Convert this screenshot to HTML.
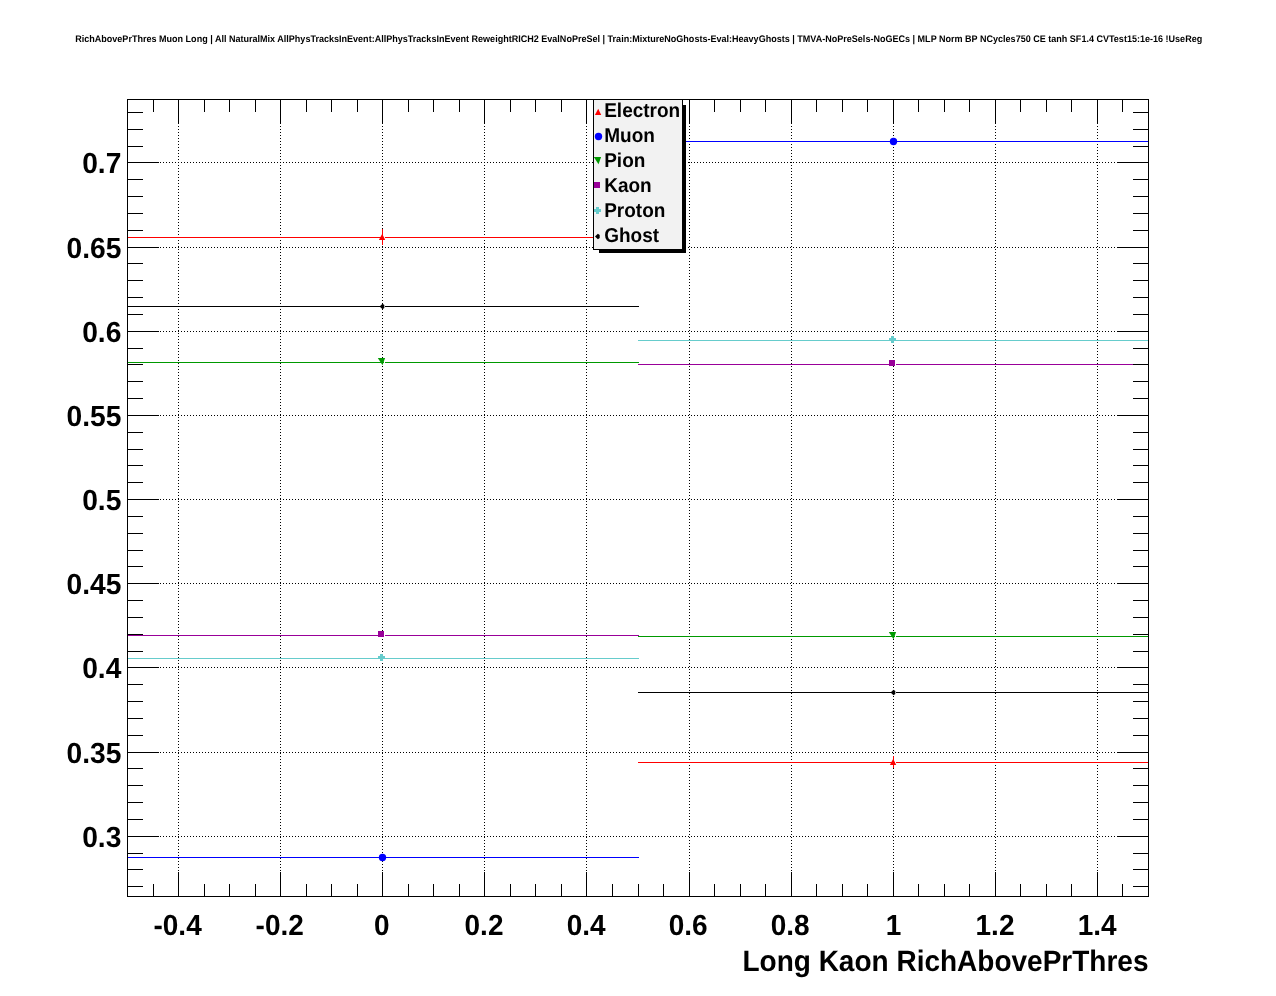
<!DOCTYPE html>
<html><head><meta charset="utf-8"><title>plot</title>
<style>html,body{margin:0;padding:0;background:#fff;}body{width:1276px;height:996px;overflow:hidden;}svg{display:block;will-change:transform;}text{font-family:"Liberation Sans",sans-serif;font-weight:bold;fill:#000;text-rendering:geometricPrecision;}</style></head><body>
<svg width="1276" height="996" viewBox="0 0 1276 996">
<rect x="0" y="0" width="1276" height="996" fill="#fff"/>
<g stroke="#000" stroke-width="1" stroke-dasharray="1 2" shape-rendering="crispEdges">
<line x1="178.5" y1="126" x2="178.5" y2="872"/>
<line x1="280.5" y1="126" x2="280.5" y2="872"/>
<line x1="382.5" y1="126" x2="382.5" y2="872"/>
<line x1="484.5" y1="126" x2="484.5" y2="872"/>
<line x1="586.5" y1="126" x2="586.5" y2="872"/>
<line x1="689.5" y1="126" x2="689.5" y2="872"/>
<line x1="791.5" y1="126" x2="791.5" y2="872"/>
<line x1="893.5" y1="126" x2="893.5" y2="872"/>
<line x1="995.5" y1="126" x2="995.5" y2="872"/>
<line x1="1097.5" y1="126" x2="1097.5" y2="872"/>
<line x1="160" y1="836.5" x2="1117" y2="836.5"/>
<line x1="160" y1="752.5" x2="1117" y2="752.5"/>
<line x1="160" y1="667.5" x2="1117" y2="667.5"/>
<line x1="160" y1="583.5" x2="1117" y2="583.5"/>
<line x1="160" y1="499.5" x2="1117" y2="499.5"/>
<line x1="160" y1="415.5" x2="1117" y2="415.5"/>
<line x1="160" y1="331.5" x2="1117" y2="331.5"/>
<line x1="160" y1="247.5" x2="1117" y2="247.5"/>
<line x1="160" y1="162.5" x2="1117" y2="162.5"/>
</g>
<g stroke="#ff0000" stroke-width="1" shape-rendering="crispEdges">
<line x1="127" y1="237.5" x2="384" y2="237.5"/>
<line x1="385" y1="237.5" x2="639" y2="237.5"/>
<line x1="638" y1="762.5" x2="895" y2="762.5"/>
<line x1="896" y1="762.5" x2="1149" y2="762.5"/>
</g>
<g stroke="#0000ff" stroke-width="1" shape-rendering="crispEdges">
<line x1="127" y1="857.5" x2="384" y2="857.5"/>
<line x1="385" y1="857.5" x2="639" y2="857.5"/>
<line x1="638" y1="141.5" x2="895" y2="141.5"/>
<line x1="896" y1="141.5" x2="1149" y2="141.5"/>
</g>
<g stroke="#009900" stroke-width="1" shape-rendering="crispEdges">
<line x1="127" y1="362.5" x2="384" y2="362.5"/>
<line x1="385" y1="362.5" x2="639" y2="362.5"/>
<line x1="638" y1="636.5" x2="895" y2="636.5"/>
<line x1="896" y1="636.5" x2="1149" y2="636.5"/>
</g>
<g stroke="#990099" stroke-width="1" shape-rendering="crispEdges">
<line x1="127" y1="635.5" x2="384" y2="635.5"/>
<line x1="385" y1="635.5" x2="639" y2="635.5"/>
<line x1="638" y1="364.5" x2="895" y2="364.5"/>
<line x1="896" y1="364.5" x2="1149" y2="364.5"/>
</g>
<g stroke="#66cccc" stroke-width="1" shape-rendering="crispEdges">
<line x1="127" y1="658.5" x2="384" y2="658.5"/>
<line x1="385" y1="658.5" x2="639" y2="658.5"/>
<line x1="638" y1="340.5" x2="895" y2="340.5"/>
<line x1="896" y1="340.5" x2="1149" y2="340.5"/>
</g>
<g stroke="#000000" stroke-width="1" shape-rendering="crispEdges">
<line x1="127" y1="306.5" x2="384" y2="306.5"/>
<line x1="385" y1="306.5" x2="639" y2="306.5"/>
<line x1="638" y1="692.5" x2="895" y2="692.5"/>
<line x1="896" y1="692.5" x2="1149" y2="692.5"/>
</g>
<g stroke="#ff0000" stroke-width="1" shape-rendering="crispEdges">
<line x1="382.5" y1="229" x2="382.5" y2="245"/>
<line x1="893.5" y1="756" x2="893.5" y2="768"/>
</g>
<polygon points="378.9,240 385.2,240 382.2,233.8" fill="#ff0000"/>
<polygon points="889.9,765 896.2,765 893.2,758.8" fill="#ff0000"/>
<circle cx="382.5" cy="857.5" r="3.7" fill="#0000ff"/>
<circle cx="893.5" cy="141.5" r="3.7" fill="#0000ff"/>
<polygon points="377.8,358 385.1,358 382.5,365.2" fill="#009900"/>
<polygon points="888.8,632 896.1,632 893.5,639.2" fill="#009900"/>
<rect x="378" y="631" width="6" height="6" fill="#990099" shape-rendering="crispEdges"/>
<rect x="889" y="360" width="6" height="6" fill="#990099" shape-rendering="crispEdges"/>
<rect x="380" y="654" width="3" height="7" fill="#66cccc" shape-rendering="crispEdges"/><rect x="378" y="656" width="7" height="3" fill="#66cccc" shape-rendering="crispEdges"/>
<rect x="891" y="336" width="3" height="7" fill="#66cccc" shape-rendering="crispEdges"/><rect x="889" y="338" width="7" height="3" fill="#66cccc" shape-rendering="crispEdges"/>
<polygon points="379.6,306.5 382.5,303.7 384.3,305.1 384.3,307.9 382.5,309.3" fill="#000000"/>
<polygon points="890.6,692.5 893.5,689.7 895.3,691.1 895.3,693.9 893.5,695.3" fill="#000000"/>
<g stroke="#000" stroke-width="1" shape-rendering="crispEdges" fill="none">
<rect x="127.5" y="99.5" width="1021" height="797"/>
<line x1="153.5" y1="99" x2="153.5" y2="112"/>
<line x1="153.5" y1="897" x2="153.5" y2="884"/>
<line x1="178.5" y1="99" x2="178.5" y2="124"/>
<line x1="178.5" y1="897" x2="178.5" y2="872"/>
<line x1="204.5" y1="99" x2="204.5" y2="112"/>
<line x1="204.5" y1="897" x2="204.5" y2="884"/>
<line x1="229.5" y1="99" x2="229.5" y2="112"/>
<line x1="229.5" y1="897" x2="229.5" y2="884"/>
<line x1="255.5" y1="99" x2="255.5" y2="112"/>
<line x1="255.5" y1="897" x2="255.5" y2="884"/>
<line x1="280.5" y1="99" x2="280.5" y2="124"/>
<line x1="280.5" y1="897" x2="280.5" y2="872"/>
<line x1="306.5" y1="99" x2="306.5" y2="112"/>
<line x1="306.5" y1="897" x2="306.5" y2="884"/>
<line x1="331.5" y1="99" x2="331.5" y2="112"/>
<line x1="331.5" y1="897" x2="331.5" y2="884"/>
<line x1="357.5" y1="99" x2="357.5" y2="112"/>
<line x1="357.5" y1="897" x2="357.5" y2="884"/>
<line x1="382.5" y1="99" x2="382.5" y2="124"/>
<line x1="382.5" y1="897" x2="382.5" y2="872"/>
<line x1="408.5" y1="99" x2="408.5" y2="112"/>
<line x1="408.5" y1="897" x2="408.5" y2="884"/>
<line x1="433.5" y1="99" x2="433.5" y2="112"/>
<line x1="433.5" y1="897" x2="433.5" y2="884"/>
<line x1="459.5" y1="99" x2="459.5" y2="112"/>
<line x1="459.5" y1="897" x2="459.5" y2="884"/>
<line x1="484.5" y1="99" x2="484.5" y2="124"/>
<line x1="484.5" y1="897" x2="484.5" y2="872"/>
<line x1="510.5" y1="99" x2="510.5" y2="112"/>
<line x1="510.5" y1="897" x2="510.5" y2="884"/>
<line x1="535.5" y1="99" x2="535.5" y2="112"/>
<line x1="535.5" y1="897" x2="535.5" y2="884"/>
<line x1="561.5" y1="99" x2="561.5" y2="112"/>
<line x1="561.5" y1="897" x2="561.5" y2="884"/>
<line x1="586.5" y1="99" x2="586.5" y2="124"/>
<line x1="586.5" y1="897" x2="586.5" y2="872"/>
<line x1="612.5" y1="99" x2="612.5" y2="112"/>
<line x1="612.5" y1="897" x2="612.5" y2="884"/>
<line x1="638.5" y1="99" x2="638.5" y2="112"/>
<line x1="638.5" y1="897" x2="638.5" y2="884"/>
<line x1="663.5" y1="99" x2="663.5" y2="112"/>
<line x1="663.5" y1="897" x2="663.5" y2="884"/>
<line x1="689.5" y1="99" x2="689.5" y2="124"/>
<line x1="689.5" y1="897" x2="689.5" y2="872"/>
<line x1="714.5" y1="99" x2="714.5" y2="112"/>
<line x1="714.5" y1="897" x2="714.5" y2="884"/>
<line x1="740.5" y1="99" x2="740.5" y2="112"/>
<line x1="740.5" y1="897" x2="740.5" y2="884"/>
<line x1="765.5" y1="99" x2="765.5" y2="112"/>
<line x1="765.5" y1="897" x2="765.5" y2="884"/>
<line x1="791.5" y1="99" x2="791.5" y2="124"/>
<line x1="791.5" y1="897" x2="791.5" y2="872"/>
<line x1="816.5" y1="99" x2="816.5" y2="112"/>
<line x1="816.5" y1="897" x2="816.5" y2="884"/>
<line x1="842.5" y1="99" x2="842.5" y2="112"/>
<line x1="842.5" y1="897" x2="842.5" y2="884"/>
<line x1="867.5" y1="99" x2="867.5" y2="112"/>
<line x1="867.5" y1="897" x2="867.5" y2="884"/>
<line x1="893.5" y1="99" x2="893.5" y2="124"/>
<line x1="893.5" y1="897" x2="893.5" y2="872"/>
<line x1="918.5" y1="99" x2="918.5" y2="112"/>
<line x1="918.5" y1="897" x2="918.5" y2="884"/>
<line x1="944.5" y1="99" x2="944.5" y2="112"/>
<line x1="944.5" y1="897" x2="944.5" y2="884"/>
<line x1="969.5" y1="99" x2="969.5" y2="112"/>
<line x1="969.5" y1="897" x2="969.5" y2="884"/>
<line x1="995.5" y1="99" x2="995.5" y2="124"/>
<line x1="995.5" y1="897" x2="995.5" y2="872"/>
<line x1="1020.5" y1="99" x2="1020.5" y2="112"/>
<line x1="1020.5" y1="897" x2="1020.5" y2="884"/>
<line x1="1046.5" y1="99" x2="1046.5" y2="112"/>
<line x1="1046.5" y1="897" x2="1046.5" y2="884"/>
<line x1="1071.5" y1="99" x2="1071.5" y2="112"/>
<line x1="1071.5" y1="897" x2="1071.5" y2="884"/>
<line x1="1097.5" y1="99" x2="1097.5" y2="124"/>
<line x1="1097.5" y1="897" x2="1097.5" y2="872"/>
<line x1="1122.5" y1="99" x2="1122.5" y2="112"/>
<line x1="1122.5" y1="897" x2="1122.5" y2="884"/>
<line x1="127" y1="112.5" x2="143" y2="112.5"/>
<line x1="1149" y1="112.5" x2="1133" y2="112.5"/>
<line x1="127" y1="129.5" x2="143" y2="129.5"/>
<line x1="1149" y1="129.5" x2="1133" y2="129.5"/>
<line x1="127" y1="146.5" x2="143" y2="146.5"/>
<line x1="1149" y1="146.5" x2="1133" y2="146.5"/>
<line x1="127" y1="162.5" x2="159" y2="162.5"/>
<line x1="1149" y1="162.5" x2="1117" y2="162.5"/>
<line x1="127" y1="179.5" x2="143" y2="179.5"/>
<line x1="1149" y1="179.5" x2="1133" y2="179.5"/>
<line x1="127" y1="196.5" x2="143" y2="196.5"/>
<line x1="1149" y1="196.5" x2="1133" y2="196.5"/>
<line x1="127" y1="213.5" x2="143" y2="213.5"/>
<line x1="1149" y1="213.5" x2="1133" y2="213.5"/>
<line x1="127" y1="230.5" x2="143" y2="230.5"/>
<line x1="1149" y1="230.5" x2="1133" y2="230.5"/>
<line x1="127" y1="247.5" x2="159" y2="247.5"/>
<line x1="1149" y1="247.5" x2="1117" y2="247.5"/>
<line x1="127" y1="263.5" x2="143" y2="263.5"/>
<line x1="1149" y1="263.5" x2="1133" y2="263.5"/>
<line x1="127" y1="280.5" x2="143" y2="280.5"/>
<line x1="1149" y1="280.5" x2="1133" y2="280.5"/>
<line x1="127" y1="297.5" x2="143" y2="297.5"/>
<line x1="1149" y1="297.5" x2="1133" y2="297.5"/>
<line x1="127" y1="314.5" x2="143" y2="314.5"/>
<line x1="1149" y1="314.5" x2="1133" y2="314.5"/>
<line x1="127" y1="331.5" x2="159" y2="331.5"/>
<line x1="1149" y1="331.5" x2="1117" y2="331.5"/>
<line x1="127" y1="348.5" x2="143" y2="348.5"/>
<line x1="1149" y1="348.5" x2="1133" y2="348.5"/>
<line x1="127" y1="364.5" x2="143" y2="364.5"/>
<line x1="1149" y1="364.5" x2="1133" y2="364.5"/>
<line x1="127" y1="381.5" x2="143" y2="381.5"/>
<line x1="1149" y1="381.5" x2="1133" y2="381.5"/>
<line x1="127" y1="398.5" x2="143" y2="398.5"/>
<line x1="1149" y1="398.5" x2="1133" y2="398.5"/>
<line x1="127" y1="415.5" x2="159" y2="415.5"/>
<line x1="1149" y1="415.5" x2="1117" y2="415.5"/>
<line x1="127" y1="432.5" x2="143" y2="432.5"/>
<line x1="1149" y1="432.5" x2="1133" y2="432.5"/>
<line x1="127" y1="449.5" x2="143" y2="449.5"/>
<line x1="1149" y1="449.5" x2="1133" y2="449.5"/>
<line x1="127" y1="465.5" x2="143" y2="465.5"/>
<line x1="1149" y1="465.5" x2="1133" y2="465.5"/>
<line x1="127" y1="482.5" x2="143" y2="482.5"/>
<line x1="1149" y1="482.5" x2="1133" y2="482.5"/>
<line x1="127" y1="499.5" x2="159" y2="499.5"/>
<line x1="1149" y1="499.5" x2="1117" y2="499.5"/>
<line x1="127" y1="516.5" x2="143" y2="516.5"/>
<line x1="1149" y1="516.5" x2="1133" y2="516.5"/>
<line x1="127" y1="533.5" x2="143" y2="533.5"/>
<line x1="1149" y1="533.5" x2="1133" y2="533.5"/>
<line x1="127" y1="550.5" x2="143" y2="550.5"/>
<line x1="1149" y1="550.5" x2="1133" y2="550.5"/>
<line x1="127" y1="566.5" x2="143" y2="566.5"/>
<line x1="1149" y1="566.5" x2="1133" y2="566.5"/>
<line x1="127" y1="583.5" x2="159" y2="583.5"/>
<line x1="1149" y1="583.5" x2="1117" y2="583.5"/>
<line x1="127" y1="600.5" x2="143" y2="600.5"/>
<line x1="1149" y1="600.5" x2="1133" y2="600.5"/>
<line x1="127" y1="617.5" x2="143" y2="617.5"/>
<line x1="1149" y1="617.5" x2="1133" y2="617.5"/>
<line x1="127" y1="634.5" x2="143" y2="634.5"/>
<line x1="1149" y1="634.5" x2="1133" y2="634.5"/>
<line x1="127" y1="651.5" x2="143" y2="651.5"/>
<line x1="1149" y1="651.5" x2="1133" y2="651.5"/>
<line x1="127" y1="667.5" x2="159" y2="667.5"/>
<line x1="1149" y1="667.5" x2="1117" y2="667.5"/>
<line x1="127" y1="684.5" x2="143" y2="684.5"/>
<line x1="1149" y1="684.5" x2="1133" y2="684.5"/>
<line x1="127" y1="701.5" x2="143" y2="701.5"/>
<line x1="1149" y1="701.5" x2="1133" y2="701.5"/>
<line x1="127" y1="718.5" x2="143" y2="718.5"/>
<line x1="1149" y1="718.5" x2="1133" y2="718.5"/>
<line x1="127" y1="735.5" x2="143" y2="735.5"/>
<line x1="1149" y1="735.5" x2="1133" y2="735.5"/>
<line x1="127" y1="752.5" x2="159" y2="752.5"/>
<line x1="1149" y1="752.5" x2="1117" y2="752.5"/>
<line x1="127" y1="768.5" x2="143" y2="768.5"/>
<line x1="1149" y1="768.5" x2="1133" y2="768.5"/>
<line x1="127" y1="785.5" x2="143" y2="785.5"/>
<line x1="1149" y1="785.5" x2="1133" y2="785.5"/>
<line x1="127" y1="802.5" x2="143" y2="802.5"/>
<line x1="1149" y1="802.5" x2="1133" y2="802.5"/>
<line x1="127" y1="819.5" x2="143" y2="819.5"/>
<line x1="1149" y1="819.5" x2="1133" y2="819.5"/>
<line x1="127" y1="836.5" x2="159" y2="836.5"/>
<line x1="1149" y1="836.5" x2="1117" y2="836.5"/>
<line x1="127" y1="853.5" x2="143" y2="853.5"/>
<line x1="1149" y1="853.5" x2="1133" y2="853.5"/>
<line x1="127" y1="869.5" x2="143" y2="869.5"/>
<line x1="1149" y1="869.5" x2="1133" y2="869.5"/>
<line x1="127" y1="886.5" x2="143" y2="886.5"/>
<line x1="1149" y1="886.5" x2="1133" y2="886.5"/>
</g>
<g shape-rendering="crispEdges">
<rect x="683" y="105" width="3" height="148" fill="#000"/>
<rect x="599" y="250" width="87" height="3" fill="#000"/>
<rect x="593.5" y="99.5" width="89" height="150" fill="#f2f2f2" stroke="#000" stroke-width="1"/>
</g>
<polygon points="594.9,115 601.2,115 598.2,108.8" fill="#ff0000"/>
<text transform="translate(604.2,117) scale(1,1.055)" font-size="19.0" text-anchor="start">Electron</text>
<circle cx="598.5" cy="136.5" r="3.7" fill="#0000ff"/>
<text transform="translate(604.2,142) scale(1,1.055)" font-size="19.0" text-anchor="start">Muon</text>
<polygon points="593.8,157 601.1,157 598.5,164.2" fill="#009900"/>
<text transform="translate(604.2,167) scale(1,1.055)" font-size="19.0" text-anchor="start">Pion</text>
<rect x="594" y="182" width="6" height="6" fill="#990099" shape-rendering="crispEdges"/>
<text transform="translate(604.2,192) scale(1,1.055)" font-size="19.0" text-anchor="start">Kaon</text>
<rect x="596" y="207" width="3" height="7" fill="#66cccc" shape-rendering="crispEdges"/><rect x="594" y="209" width="7" height="3" fill="#66cccc" shape-rendering="crispEdges"/>
<text transform="translate(604.2,217) scale(1,1.055)" font-size="19.0" text-anchor="start">Proton</text>
<polygon points="595.0,236.5 597.9,233.7 599.6999999999999,235.1 599.6999999999999,237.9 597.9,239.3" fill="#000000"/>
<text transform="translate(604.2,242) scale(1,1.055)" font-size="19.0" text-anchor="start">Ghost</text>
<text transform="translate(121.4,847) scale(1.008,1.04)" font-size="28" text-anchor="end">0.3</text>
<text transform="translate(121.4,763) scale(1.008,1.04)" font-size="28" text-anchor="end">0.35</text>
<text transform="translate(121.4,678) scale(1.008,1.04)" font-size="28" text-anchor="end">0.4</text>
<text transform="translate(121.4,594) scale(1.008,1.04)" font-size="28" text-anchor="end">0.45</text>
<text transform="translate(121.4,510) scale(1.008,1.04)" font-size="28" text-anchor="end">0.5</text>
<text transform="translate(121.4,426) scale(1.008,1.04)" font-size="28" text-anchor="end">0.55</text>
<text transform="translate(121.4,342) scale(1.008,1.04)" font-size="28" text-anchor="end">0.6</text>
<text transform="translate(121.4,258) scale(1.008,1.04)" font-size="28" text-anchor="end">0.65</text>
<text transform="translate(121.4,173) scale(1.008,1.04)" font-size="28" text-anchor="end">0.7</text>
<text transform="translate(177.6,935) scale(1,1.04)" font-size="28" text-anchor="middle">-0.4</text>
<text transform="translate(279.7,935) scale(1,1.04)" font-size="28" text-anchor="middle">-0.2</text>
<text transform="translate(381.9,935) scale(1,1.04)" font-size="28" text-anchor="middle">0</text>
<text transform="translate(484.0,935) scale(1,1.04)" font-size="28" text-anchor="middle">0.2</text>
<text transform="translate(586.1,935) scale(1,1.04)" font-size="28" text-anchor="middle">0.4</text>
<text transform="translate(688.1,935) scale(1,1.04)" font-size="28" text-anchor="middle">0.6</text>
<text transform="translate(790.2,935) scale(1,1.04)" font-size="28" text-anchor="middle">0.8</text>
<text transform="translate(893.5,935) scale(1,1.04)" font-size="28" text-anchor="middle">1</text>
<text transform="translate(995.0,935) scale(1,1.04)" font-size="28" text-anchor="middle">1.2</text>
<text transform="translate(1097.1,935) scale(1,1.04)" font-size="28" text-anchor="middle">1.4</text>
<text transform="translate(1148.5,971) scale(1,1.055)" font-size="28" text-anchor="end">Long Kaon RichAbovePrThres</text>
<text transform="translate(75.2,42) scale(1,1.07)" font-size="9" text-anchor="start" textLength="1127" lengthAdjust="spacingAndGlyphs">RichAbovePrThres Muon Long | All NaturalMix AllPhysTracksInEvent:AllPhysTracksInEvent ReweightRICH2 EvalNoPreSel | Train:MixtureNoGhosts-Eval:HeavyGhosts | TMVA-NoPreSels-NoGECs | MLP Norm BP NCycles750 CE tanh SF1.4 CVTest15:1e-16 !UseReg</text>
</svg></body></html>
